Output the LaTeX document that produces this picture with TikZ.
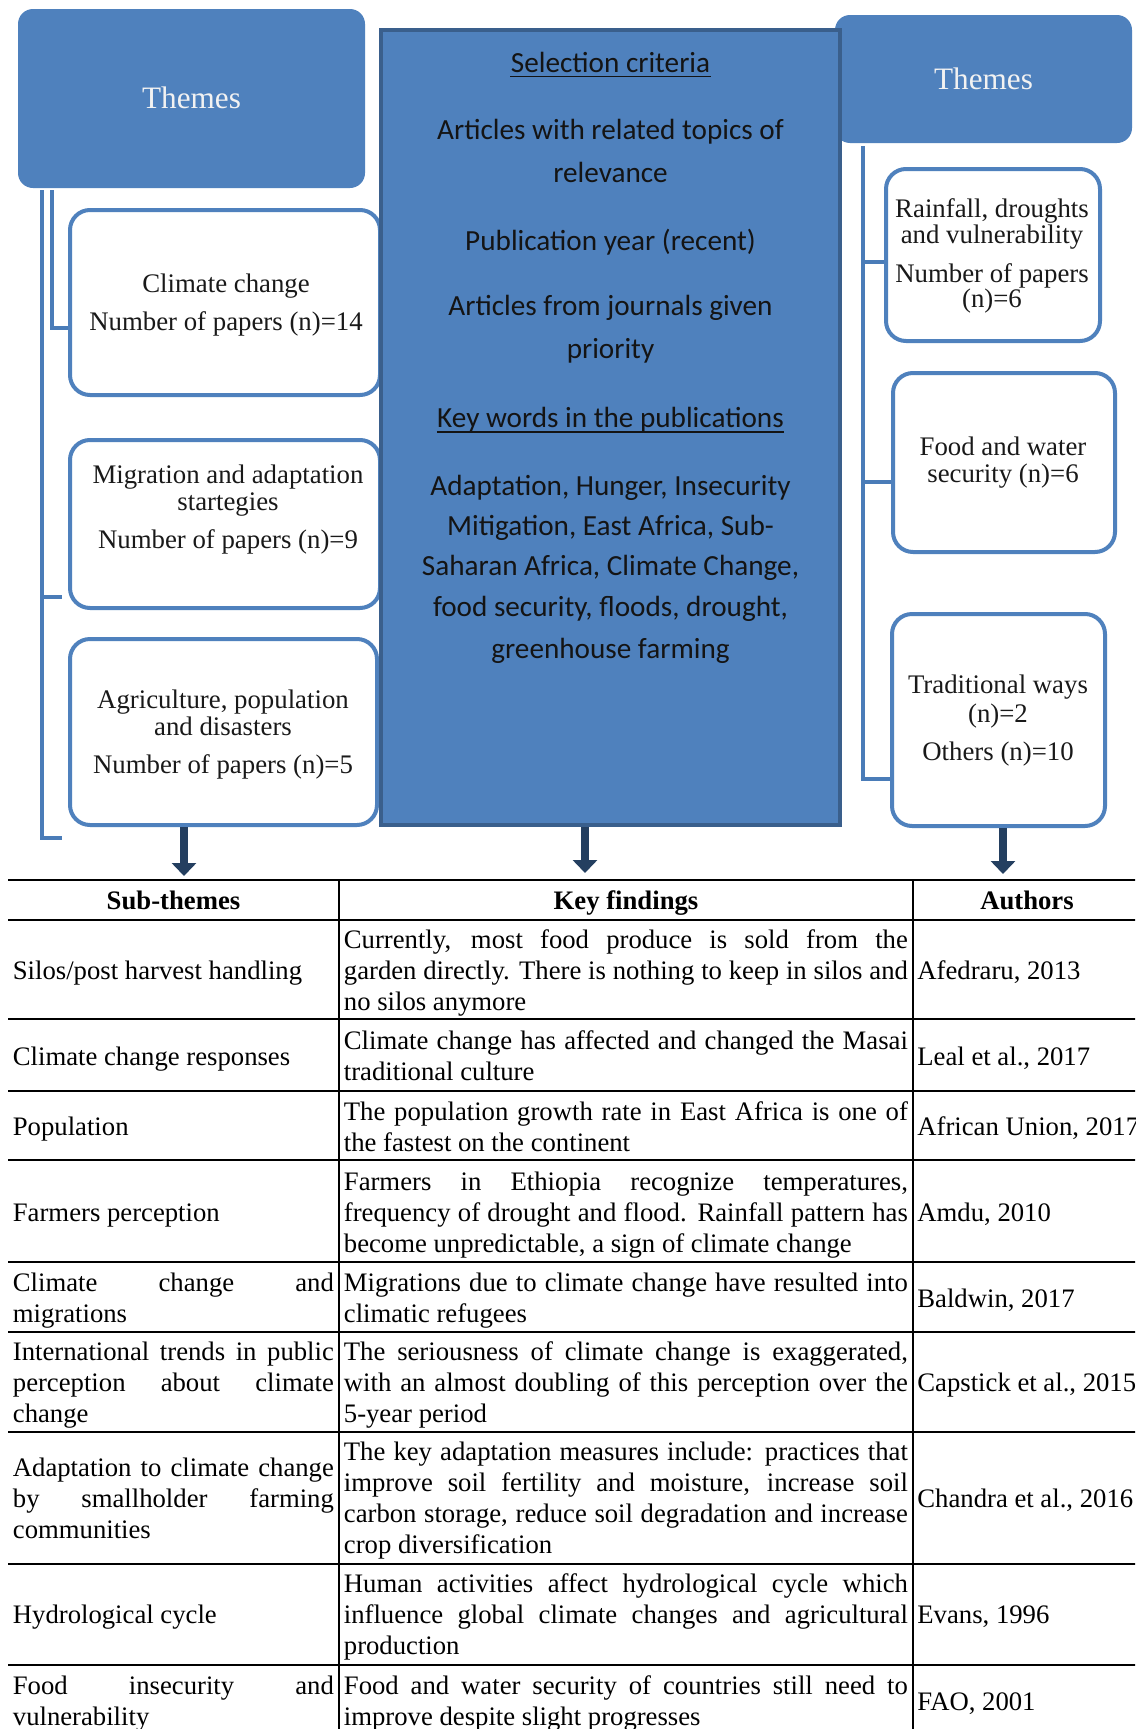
\documentclass[tikz,border=0pt]{standalone}
\usepackage{fontspec}
\setmainfont{Liberation Serif}
\newfontfamily\calfont{Carlito}
\usetikzlibrary{arrows.meta,fit}
\definecolor{boxblue}{HTML}{4F81BD}
\definecolor{boxedge}{HTML}{3A5F8C}
\definecolor{lineblue}{HTML}{4A7CB8}
\definecolor{arrownavy}{HTML}{243F60}
\newcommand{\J}[2]{\makebox[#1][s]{#2}}
\newcommand{\TL}[4]{\node[tcell] (#1) at (#2,#3) {#4};}
\begin{document}
\begin{tikzpicture}[x=0.5pt,y=-0.5pt,
  themebox/.style={fill=boxblue,draw=none,rounded corners=7.5pt,inner sep=0pt},
  childbox/.style={fill=white,draw=boxblue,line width=2pt,rounded corners=10pt,inner sep=0pt},
  critbox/.style={fill=boxblue,draw=boxedge,line width=1.6pt,inner sep=0pt},
  conn/.style={draw=lineblue,line width=1.8pt},
  downarrow/.style={draw=arrownavy,line width=4pt,-{Triangle[width=12pt,length=6.5pt]}},
  themetxt/.style={inner sep=0pt,anchor=base,text=white!95!black,font=\fontsize{15.6pt}{18pt}\selectfont},
  btxt/.style={inner sep=0pt,anchor=base,text=black!90,font=\fontsize{13.4pt}{16pt}\selectfont},
  ctxt/.style={inner sep=0pt,anchor=base,text=black!92,font=\calfont\fontsize{14.6pt}{17pt}\selectfont},
  tcell/.style={inner sep=0pt,anchor=base west,yshift=-1.5pt,font=\fontsize{13.35pt}{15.45pt}\selectfont},
  thead/.style={inner sep=0pt,anchor=base,font=\bfseries\fontsize{13.35pt}{15.45pt}\selectfont},
  tline/.style={line width=1pt,black}
]
\useasboundingbox (0,0) rectangle (1135,1729);
\clip (0,0) rectangle (1135,1729);
\fill[white] (0,0) rectangle (1135,1729);

% theme headers
\node[themebox,fit={(18,9) (365,188)}] (lt) {};
\node[themebox,fit={(835,15) (1132,143)}] (rt) {};

% child boxes
\node[childbox,fit={(70,210) (380,395)}] (cc) {};
\node[childbox,fit={(70,440) (380,608)}] (mig) {};
\node[childbox,fit={(70,639) (377,825)}] (agr) {};
\node[childbox,fit={(886,169) (1100,341)}] (rain) {};
\node[childbox,fit={(893,373) (1115,552)}] (food) {};
\node[childbox,fit={(892,614) (1105,826)}] (trad) {};

% left connectors
\coordinate (lA) at (52,190);
\coordinate (lAy) at (52,328);
\draw[conn] (lA) |- (lAy -| cc.west);
\coordinate (lB) at (42,190);
\coordinate (lBend) at (62,838);
\draw[conn] (lB) |- (lBend);
\coordinate (lBm0) at (42,597);
\coordinate (lBm1) at (62,597);
\draw[conn] (lBm0) -- (lBm1);

% right connectors
\coordinate (rV) at (863,146);
\coordinate (rVend) at (890,779);
\draw[conn] (rV) |- (rVend);
\coordinate (rr) at (863,262);
\draw[conn] (rr) -- (rr -| rain.west);
\coordinate (rf) at (863,482);
\draw[conn] (rf) -- (rf -| food.west);

% central criteria box
\node[critbox,fit={(381,30) (840,825)}] (crit) {};

% theme texts
\node[themetxt] (ltt) at (191.5,108) {Themes};
\node[themetxt] (rtt) at (983.5,89) {Themes};

% child texts
\node[btxt] (cc1) at (226,292) {Climate change};
\node[btxt] (cc2) at (226,330) {Number of papers (n)=14};
\node[btxt] (mig1) at (228,483) {Migration and adaptation};
\node[btxt] (mig2) at (228,510) {startegies};
\node[btxt] (mig3) at (228,548) {Number of papers (n)=9};
\node[btxt] (agr1) at (223,708) {Agriculture, population};
\node[btxt] (agr2) at (223,735) {and disasters};
\node[btxt] (agr3) at (223,773) {Number of papers (n)=5};
\node[btxt] (rain1) at (992,217) {Rainfall, droughts};
\node[btxt] (rain2) at (992,243) {and vulnerability};
\node[btxt] (rain3) at (992,282) {Number of papers};
\node[btxt] (rain4) at (992,307) {(n)=6};
\node[btxt] (food1) at (1003,455) {Food and water};
\node[btxt] (food2) at (1003,482) {security (n)=6};
\node[btxt] (trad1) at (998,693) {Traditional ways};
\node[btxt] (trad2) at (998,722) {(n)=2};
\node[btxt] (trad3) at (998,760) {Others (n)=10};

% criteria texts
\node[ctxt] (sel) at (610.5,72) {Selection criteria};
\draw[line width=0.8pt,black!92] ([yshift=-2.2pt]sel.base west) -- ([yshift=-2.2pt]sel.base east);
\node[ctxt] (c1) at (610.5,139) {Articles with related topics of};
\node[ctxt] (c2) at (610.5,182) {relevance};
\node[ctxt] (c3) at (610.5,250) {Publication year (recent)};
\node[ctxt] (c4) at (610.5,315) {Articles from journals given};
\node[ctxt] (c5) at (610.5,358) {priority};
\node[ctxt] (kw) at (610.5,427) {Key words in the publications};
\draw[line width=0.8pt,black!92] ([yshift=-2.4pt]kw.base west) -- ([yshift=-2.4pt]kw.base east);
\node[ctxt] (k1) at (610.5,495) {Adaptation, Hunger, Insecurity};
\node[ctxt] (k2) at (610.5,535) {Mitigation, East Africa, Sub-};
\node[ctxt] (k3) at (610.5,575) {Saharan Africa, Climate Change,};
\node[ctxt] (k4) at (610.5,616) {food security, floods, drought,};
\node[ctxt] (k5) at (610.5,658) {greenhouse farming};

% arrows
\coordinate (la1) at (184,876);
\coordinate (ca1) at (585,873);
\coordinate (ra1) at (1003,874);
\draw[downarrow] (agr.south -| la1) -- (la1);
\draw[downarrow] (crit.south -| ca1) -- (ca1);
\draw[downarrow] (trad.south -| ra1) -- (ra1);

% table rules
\foreach \yy in {880,920,1019,1091,1160,1262,1332,1432,1564,1665}
  \draw[tline] (8,\yy) -- (1150,\yy);
\draw[tline] (339,880) -- (339,1740);
\draw[tline] (913,880) -- (913,1740);

% header
\node[thead] (h1) at (173.5,909) {Sub-themes};
\node[thead] (h2) at (626,909) {Key findings};
\node[thead] (h3) at (1027,909) {Authors};

% Row 1
\TL{r1a}{12.5}{976.5}{Silos/post harvest handling}
\TL{r1b1}{343.5}{945.6}{\J{282pt}{Currently, most food produce is sold from the}}
\TL{r1b2}{343.5}{976.5}{\J{282pt}{garden directly. There is nothing to keep in silos and}}
\TL{r1b3}{343.5}{1007.4}{no silos anymore}
\TL{r1c}{917}{976.5}{Afedraru, 2013}
% Row 2
\TL{r2a}{12.5}{1062}{Climate change responses}
\TL{r2b1}{343.5}{1046.5}{\J{282pt}{Climate change has affected and changed the Masai}}
\TL{r2b2}{343.5}{1077.5}{traditional culture}
\TL{r2c}{917}{1062}{Leal et al., 2017}
% Row 3
\TL{r3a}{12.5}{1132.5}{Population}
\TL{r3b1}{343.5}{1117}{\J{282pt}{The population growth rate in East Africa is one of}}
\TL{r3b2}{343.5}{1148}{the fastest on the continent}
\TL{r3c}{917}{1132.5}{African Union, 2017}
% Row 4
\TL{r4a}{12.5}{1218}{Farmers perception}
\TL{r4b1}{343.5}{1187}{\J{282pt}{Farmers in Ethiopia recognize temperatures,}}
\TL{r4b2}{343.5}{1218}{\J{282pt}{frequency of drought and flood. Rainfall pattern has}}
\TL{r4b3}{343.5}{1249}{become unpredictable, a sign of climate change}
\TL{r4c}{917}{1218}{Amdu, 2010}
% Row 5
\TL{r5a1}{12.5}{1288.5}{\J{160.5pt}{Climate change and}}
\TL{r5a2}{12.5}{1319.5}{migrations}
\TL{r5b1}{343.5}{1288.5}{\J{282pt}{Migrations due to climate change have resulted into}}
\TL{r5b2}{343.5}{1319.5}{climatic refugees}
\TL{r5c}{917}{1304}{Baldwin, 2017}
% Row 6
\TL{r6a1}{12.5}{1357.6}{\J{160.5pt}{International trends in public}}
\TL{r6a2}{12.5}{1388.5}{\J{160.5pt}{perception about climate}}
\TL{r6a3}{12.5}{1419.4}{change}
\TL{r6b1}{343.5}{1357.6}{\J{282pt}{The seriousness of climate change is exaggerated,}}
\TL{r6b2}{343.5}{1388.5}{\J{282pt}{with an almost doubling of this perception over the}}
\TL{r6b3}{343.5}{1419.4}{5-year period}
\TL{r6c}{917}{1388.5}{Capstick et al., 2015}
% Row 7
\TL{r7a1}{12.5}{1473}{\J{160.5pt}{Adaptation to climate change}}
\TL{r7a2}{12.5}{1504}{\J{160.5pt}{by smallholder farming}}
\TL{r7a3}{12.5}{1535}{communities}
\TL{r7b1}{343.5}{1457.6}{\J{282pt}{The key adaptation measures include: practices that}}
\TL{r7b2}{343.5}{1488.5}{\J{282pt}{improve soil fertility and moisture, increase soil}}
\TL{r7b3}{343.5}{1519.4}{\J{282pt}{carbon storage, reduce soil degradation and increase}}
\TL{r7b4}{343.5}{1550.4}{crop diversification}
\TL{r7c}{917}{1504}{Chandra et al., 2016}
% Row 8
\TL{r8a}{12.5}{1620.5}{Hydrological cycle}
\TL{r8b1}{343.5}{1589.6}{\J{282pt}{Human activities affect hydrological cycle which}}
\TL{r8b2}{343.5}{1620.5}{\J{282pt}{influence global climate changes and agricultural}}
\TL{r8b3}{343.5}{1651.4}{production}
\TL{r8c}{917}{1620.5}{Evans, 1996}
% Row 9
\TL{r9a1}{12.5}{1691.5}{\J{160.5pt}{Food insecurity and}}
\TL{r9a2}{12.5}{1722.5}{vulnerability}
\TL{r9b1}{343.5}{1691.5}{\J{282pt}{Food and water security of countries still need to}}
\TL{r9b2}{343.5}{1722.5}{improve despite slight progresses}
\TL{r9c}{917}{1707}{FAO, 2001}
\end{tikzpicture}
\end{document}
